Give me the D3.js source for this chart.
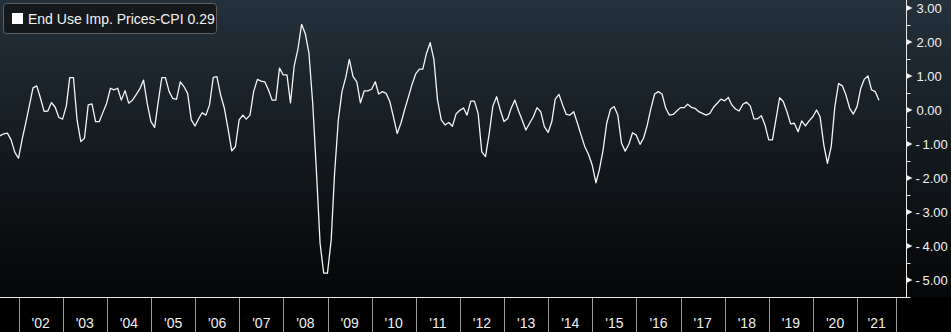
<!DOCTYPE html>
<html>
<head>
<meta charset="utf-8">
<script src="https://cdn.jsdelivr.net/npm/d3@7"></script>
<style>
  html, body { margin: 0; padding: 0; background: #000; }
  svg { display: block; font-family: "Liberation Sans", Arial, sans-serif; }
</style>
</head>
<body>
<div id="chart"></div>
<script>
// series: End Use Import Prices - CPI, monthly, Jul 2001 .. Jun 2021
const seriesName = "End Use Imp. Prices-CPI";
const firstMonth = [2001, 6]; // year, month index (July)
const values = [
  -0.76, -0.70, -0.68, -0.88, -1.24, -1.42, -0.85, -0.40, 0.13, 0.65, 0.71, 0.36,
  -0.04, -0.03, 0.22, 0.08, -0.22, -0.27, 0.12, 0.95, 0.95, -0.30, -0.93, -0.83,
  0.15, 0.18, -0.34, -0.34, -0.07, 0.20, 0.64, 0.59, 0.64, 0.29, 0.57, 0.20,
  0.29, 0.45, 0.62, 0.88, 0.20, -0.34, -0.51, 0.20, 0.95, 0.95, 0.54, 0.34,
  0.31, 0.83, 0.69, 0.49, -0.29, -0.47, -0.25, -0.08, -0.15, 0.15, 0.96, 0.98,
  0.44, 0.05, -0.55, -1.20, -1.08, -0.29, -0.15, -0.27, -0.15, 0.54, 0.90, 0.85,
  0.83, 0.59, 0.29, 0.29, 1.23, 1.03, 1.03, 0.21, 1.30, 1.78, 2.52, 2.25,
  1.67, 0.20, -1.76, -3.92, -4.80, -4.80, -3.82, -1.86, -0.29, 0.54, 0.95, 1.49,
  0.98, 0.83, 0.21, 0.56, 0.56, 0.61, 0.83, 0.47, 0.54, 0.49, 0.25, -0.20,
  -0.69, -0.39, 0.00, 0.37, 0.74, 1.06, 1.20, 1.20, 1.67, 1.98, 1.49, 0.29,
  -0.29, -0.44, -0.37, -0.48, -0.12, -0.01, 0.06, -0.15, 0.26, 0.26, -0.10, -1.23,
  -1.37, -0.69, 0.12, 0.39, 0.00, -0.34, -0.25, 0.05, 0.29, -0.02, -0.30, -0.59,
  -0.39, -0.20, 0.07, -0.05, -0.49, -0.66, -0.34, 0.32, 0.46, 0.15, -0.13, -0.15,
  -0.05, -0.39, -0.74, -1.08, -1.30, -1.62, -2.14, -1.76, -1.18, -0.39, 0.02, 0.10,
  -0.15, -0.98, -1.21, -1.00, -0.67, -0.74, -1.01, -0.83, -0.44, 0.05, 0.47, 0.54,
  0.47, 0.05, -0.15, -0.13, -0.03, 0.07, 0.07, 0.17, 0.08, 0.05, -0.05, -0.10,
  -0.15, -0.10, 0.08, 0.20, 0.32, 0.27, 0.37, 0.15, 0.03, -0.03, 0.17, 0.23,
  0.12, -0.26, -0.26, -0.17, -0.44, -0.88, -0.88, -0.29, 0.36, 0.25, -0.05, -0.41,
  -0.39, -0.64, -0.32, -0.47, -0.32, -0.20, 0.00, -0.20, -1.03, -1.57, -1.08, 0.10,
  0.78, 0.71, 0.44, 0.05, -0.12, 0.10, 0.64, 0.90, 1.00, 0.59, 0.54, 0.29
];
const yTicks = [3, 2, 1, 0, -1, -2, -3, -4, -5];
const yMinorTicks = [2.5, 1.5, 0.5, -0.5, -1.5, -2.5, -3.5, -4.5, -5.5];
const years = d3.range(2002, 2022);
const axisEnd = new Date(2021, 10, 19);

const W = 951, H = 332;
const plotW = 906, plotH = 297;

// month-end dates
const data = values.map((v, i) => ({
  date: new Date(firstMonth[0], firstMonth[1] + i + 1, 0),
  value: v
}));

const x = d3.scaleTime()
  .domain([new Date(2001, 6, 31), new Date(2022, 1, 9)])
  .range([0, plotW]);
const y = d3.scaleLinear()
  .domain([-5.5, 3.235])
  .range([plotH, 0]);

const svg = d3.select("#chart").append("svg")
  .attr("width", W)
  .attr("height", H);

const defs = svg.append("defs");
const grad = defs.append("linearGradient")
  .attr("id", "bg").attr("x1", 0).attr("y1", 0).attr("x2", 0).attr("y2", 1);
grad.append("stop").attr("offset", "0%").attr("stop-color", "#24313b");
grad.append("stop").attr("offset", "55%").attr("stop-color", "#12181d");
grad.append("stop").attr("offset", "100%").attr("stop-color", "#050607");

svg.append("rect")
  .attr("width", W).attr("height", plotH)
  .attr("fill", "url(#bg)");
svg.append("rect")
  .attr("y", plotH).attr("width", W).attr("height", H - plotH)
  .attr("fill", "#000");

// line
const line = d3.line()
  .x(d => x(d.date))
  .y(d => y(d.value));
svg.append("path")
  .datum(data)
  .attr("fill", "none")
  .attr("stroke", "#f4f4f4")
  .attr("stroke-width", 1.3)
  .attr("stroke-linejoin", "round")
  .attr("d", line);

// right axis
const axisG = svg.append("g").attr("transform", `translate(${plotW + 0.5},0)`);
axisG.append("line")
  .attr("y1", 0).attr("y2", plotH + 0.5)
  .attr("stroke", "#e8e8e8");
axisG.selectAll(".minor")
  .data(yMinorTicks)
  .join("line")
    .attr("class", "minor")
    .attr("x1", 0).attr("x2", 4)
    .attr("y1", d => Math.round(y(d)) + 0.5)
    .attr("y2", d => Math.round(y(d)) + 0.5)
    .attr("stroke", "#e8e8e8");
axisG.selectAll(".arrow")
  .data(yTicks)
  .join("path")
    .attr("class", "arrow")
    .attr("d", d => {
      const yy = y(d);
      return `M0,${yy - 3}L6,${yy}L0,${yy + 3}Z`;
    })
    .attr("fill", "#f0f0f0");
const fmt = d3.format(".2f");
axisG.selectAll(".lbl")
  .data(yTicks)
  .join("text")
    .attr("class", "lbl")
    .attr("x", d => d < 0 ? 9 : 10)
    .attr("y", d => y(d))
    .attr("dy", "0.36em")
    .attr("fill", "#f2f2f2")
    .style("font-size", "13px")
    .text(d => d < 0 ? "-\u2009" + fmt(-d) : fmt(d));

// bottom band
svg.append("line")
  .attr("x1", 0).attr("x2", plotW + 1)
  .attr("y1", plotH + 0.5).attr("y2", plotH + 0.5)
  .attr("stroke", "#e8e8e8");

const bounds = years.map(yr => new Date(yr, 0, 1)).concat([axisEnd]);
svg.selectAll(".sep")
  .data(bounds)
  .join("line")
    .attr("class", "sep")
    .attr("x1", d => Math.round(x(d)) + 0.5)
    .attr("x2", d => Math.round(x(d)) + 0.5)
    .attr("y1", plotH + 1).attr("y2", H)
    .attr("stroke", "#9a9a9a");

svg.selectAll(".yr")
  .data(years)
  .join("text")
    .attr("class", "yr")
    .attr("x", (yr, i) => (x(bounds[i]) + x(bounds[i + 1])) / 2)
    .attr("y", 328)
    .attr("text-anchor", "middle")
    .attr("fill", "#eeeeee")
    .style("font-size", "14px")
    .text(yr => "'" + String(yr).slice(2));

// legend
const leg = svg.append("g");
leg.append("rect")
  .attr("x", 3.5).attr("y", 3.5)
  .attr("width", 213).attr("height", 30)
  .attr("rx", 3)
  .attr("fill", "#15191c")
  .attr("stroke", "#5c6166");
leg.append("rect")
  .attr("x", 12).attr("y", 13)
  .attr("width", 11).attr("height", 11)
  .attr("fill", "#ffffff");
leg.append("text")
  .attr("x", 28).attr("y", 24)
  .attr("fill", "#f2f2f2")
  .style("font-size", "14px")
  .text(seriesName + " " + fmt(values[values.length - 1]));
</script>
</body>
</html>
